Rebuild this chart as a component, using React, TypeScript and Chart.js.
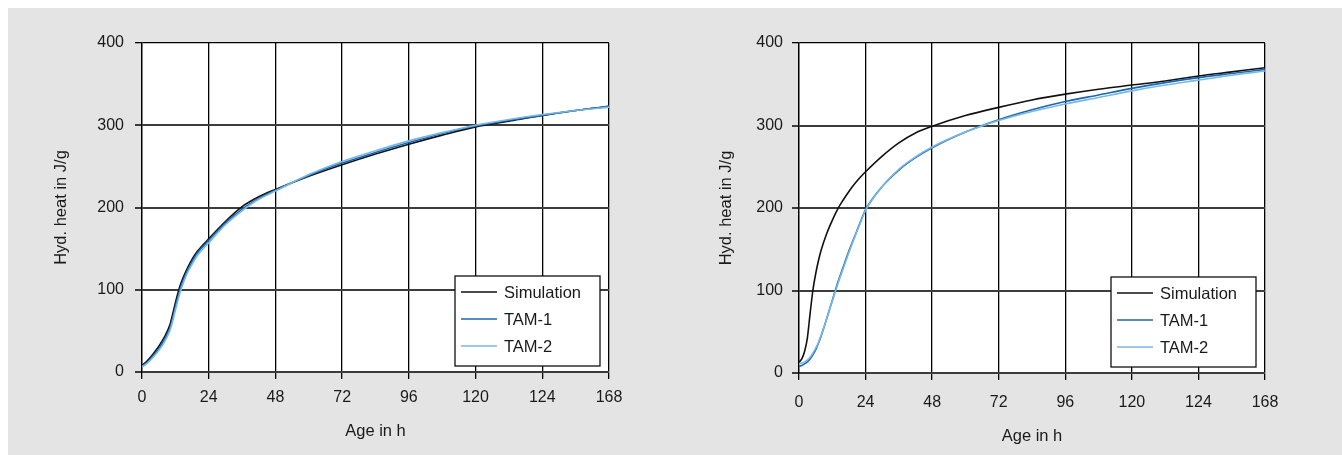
import React, { useEffect, useRef } from 'react';
import { Chart, registerables } from 'chart.js';

Chart.register(...registerables);

// ---------- shared axis data ----------
const xTickValues = [0, 24, 48, 72, 96, 120, 144, 168];
const xTickLabels = ['0', '24', '48', '72', '96', '120', '124', '168'];
const yTickValues = [0, 100, 200, 300, 400];
const xTitle = 'Age in h';
const yTitle = 'Hyd. heat in J/g';

const seriesNames = ['Simulation', 'TAM-1', 'TAM-2'];
const seriesColors = ['#111111', '#1868b0', '#7ab7e3'];

// ---------- left chart ----------
const leftHours = [0, 2, 4, 6, 8, 10, 11, 12, 13, 14, 16, 18, 20, 24, 30, 36, 42, 48, 60, 72, 84, 96, 108, 120, 132, 144, 156, 168];
const leftSim = [8, 14, 22, 31, 42, 57, 70, 84, 97, 108, 124, 137, 147, 162, 183, 201, 213, 222, 238, 252, 265, 277, 288, 298, 305, 312, 318, 323];
const leftTam1 = [7, 12, 20, 28, 39, 53, 65, 79, 92, 104, 121, 134, 145, 160, 181, 198, 211, 221, 239, 254, 267, 279, 290, 299, 306, 312, 318, 323];
const leftTam2 = [6, 11, 18, 26, 36, 50, 61, 75, 88, 100, 118, 131, 142, 157, 179, 196, 210, 220, 240, 256, 269, 281, 291, 300, 307, 313, 318, 322];

// ---------- right chart ----------
const rightHours = [0, 1, 2, 3, 4, 5, 6, 7, 8, 10, 12, 14, 16, 18, 20, 22, 24, 30, 36, 42, 48, 60, 72, 84, 96, 108, 120, 132, 144, 156, 168];
const rightSim = [13, 17, 26, 42, 72, 100, 120, 136, 149, 169, 185, 199, 210, 220, 229, 237, 244, 263, 279, 291, 299, 312, 322, 331, 338, 344, 349, 354, 360, 365, 370];
const rightTam1 = [8, 9, 11, 13.5, 17, 22, 28, 36, 45, 66, 88, 110, 129, 148, 165, 182, 198, 226, 246, 261, 273, 292, 307, 319, 329, 337, 345, 352, 358, 363, 368];
const rightTam2 = [11, 12, 13.5, 15.5, 19, 24, 30, 37, 46, 66, 87, 108, 127, 146, 164, 181, 197, 226, 247, 262, 274, 292, 306, 317, 326, 334, 342, 349, 355, 361, 366];

const FONT = "'Liberation Sans', Arial, sans-serif";
const TEXT = '#1a1a1a';
const GRID_DARK = '#3c3c3c';
const H = 447;

type Cfg = {
  left: number;
  w: number;
  yAxisW: number;
  xAxisH: number;
  padTop: number;
  padRight: number;
  yTickPad: number;
  xTickPad: number;
  yTitlePad: number;
  xTitlePad: number;
};

const leftCfg: Cfg = { left: 0, w: 663, yAxisW: 134, xAxisH: 83, padTop: 35, padRight: 62, yTickPad: 11, xTickPad: 9, yTitlePad: 44, xTitlePad: 14 };
const rightCfg: Cfg = { left: 663, w: 671, yAxisW: 128, xAxisH: 82, padTop: 35, padRight: 77, yTickPad: 9, xTickPad: 13, yTitlePad: 46, xTitlePad: 9 };

const whiteArea = {
  id: 'whiteArea',
  beforeDraw(chart: any) {
    const { ctx, chartArea } = chart;
    ctx.save();
    ctx.fillStyle = '#ffffff';
    ctx.fillRect(chartArea.left, chartArea.top, chartArea.right - chartArea.left, chartArea.bottom - chartArea.top);
    ctx.restore();
  },
};

const boxLegend = {
  id: 'boxLegend',
  afterDraw(chart: any) {
    const { ctx, chartArea } = chart;
    const bw = 145;
    const bh = 90;
    const right = chartArea.right - 9;
    const bottom = chartArea.bottom - 6;
    const x0 = right - bw;
    const y0 = bottom - bh;
    ctx.save();
    ctx.fillStyle = '#ffffff';
    ctx.fillRect(x0, y0, bw, bh);
    ctx.strokeStyle = '#111111';
    ctx.lineWidth = 1.3;
    ctx.strokeRect(x0, y0, bw, bh);
    const rows = [16, 43, 70];
    ctx.font = `16.5px ${FONT}`;
    ctx.textBaseline = 'middle';
    ctx.textAlign = 'left';
    chart.data.datasets.forEach((ds: any, i: number) => {
      const yy = y0 + rows[i];
      ctx.strokeStyle = ds.borderColor;
      ctx.lineWidth = 1.6;
      ctx.beginPath();
      ctx.moveTo(x0 + 6, yy);
      ctx.lineTo(x0 + 42, yy);
      ctx.stroke();
      ctx.fillStyle = TEXT;
      ctx.fillText(ds.label, x0 + 49, yy + 1);
    });
    ctx.restore();
  },
};

function HeatChart(props: { hours: number[]; series: number[][]; cfg: Cfg }) {
  const ref = useRef<HTMLCanvasElement | null>(null);
  const { hours, series, cfg } = props;
  useEffect(() => {
    if (!ref.current) return;
    const datasets = series.map((vals, i) => ({
      label: seriesNames[i],
      data: hours.map((h, j) => ({ x: h, y: vals[j] })),
      borderColor: seriesColors[i],
      backgroundColor: seriesColors[i],
      borderWidth: 1.6,
      pointRadius: 0,
      cubicInterpolationMode: 'monotone' as const,
      fill: false,
      order: 3 - i,
    }));
    const chart = new Chart(ref.current, {
      type: 'line',
      data: { datasets },
      plugins: [whiteArea, boxLegend],
      options: {
        animation: false,
        responsive: false,
        maintainAspectRatio: false,
        devicePixelRatio: 1,
        layout: { padding: { left: 0, top: cfg.padTop, right: cfg.padRight, bottom: 0 } },
        plugins: { legend: { display: false }, tooltip: { enabled: false } },
        scales: {
          x: {
            type: 'linear',
            min: 0,
            max: 168,
            afterBuildTicks: (s: any) => {
              s.ticks = xTickValues.map((v) => ({ value: v }));
            },
            afterFit: (s: any) => {
              s.height = cfg.xAxisH;
            },
            ticks: {
              autoSkip: false,
              maxRotation: 0,
              padding: cfg.xTickPad,
              color: TEXT,
              font: { family: FONT, size: 16 },
              callback: (v: any) => {
                const k = xTickValues.indexOf(Number(v));
                return k >= 0 ? xTickLabels[k] : '';
              },
            },
            grid: { color: '#000000', lineWidth: 1.3, tickLength: 7, drawTicks: true },
            border: { display: true, color: GRID_DARK, width: 2 },
            title: {
              display: true,
              text: xTitle,
              color: TEXT,
              font: { family: FONT, size: 16.5 },
              padding: { top: 0, bottom: cfg.xTitlePad },
            },
          },
          y: {
            type: 'linear',
            min: 0,
            max: 400,
            afterBuildTicks: (s: any) => {
              s.ticks = yTickValues.map((v) => ({ value: v }));
            },
            afterFit: (s: any) => {
              s.width = cfg.yAxisW;
            },
            ticks: {
              padding: cfg.yTickPad,
              color: TEXT,
              font: { family: FONT, size: 16 },
            },
            grid: {
              color: (c: any) => (c.tick && c.tick.value === 400 ? '#000000' : GRID_DARK),
              lineWidth: (c: any) => (c.tick && c.tick.value === 400 ? 1.3 : 2),
              tickLength: 7,
              drawTicks: true,
            },
            border: { display: true, color: '#000000', width: 1.3 },
            title: {
              display: true,
              text: yTitle,
              color: TEXT,
              font: { family: FONT, size: 16.5 },
              padding: { top: cfg.yTitlePad, bottom: 0 },
            },
          },
        },
      },
    });
    return () => chart.destroy();
  }, []);
  return (
    <canvas
      ref={ref}
      width={cfg.w}
      height={H}
      style={{ position: 'absolute', left: cfg.left, top: 0, width: cfg.w, height: H, display: 'block' }}
    />
  );
}

export default function App() {
  return (
    <div
      style={{
        position: 'absolute',
        left: 8,
        top: 8,
        right: 0,
        bottom: 0,
        background: '#e3e4e3',
        overflow: 'hidden',
      }}
    >
      <HeatChart hours={leftHours} series={[leftSim, leftTam1, leftTam2]} cfg={leftCfg} />
      <HeatChart hours={rightHours} series={[rightSim, rightTam1, rightTam2]} cfg={rightCfg} />
    </div>
  );
}
